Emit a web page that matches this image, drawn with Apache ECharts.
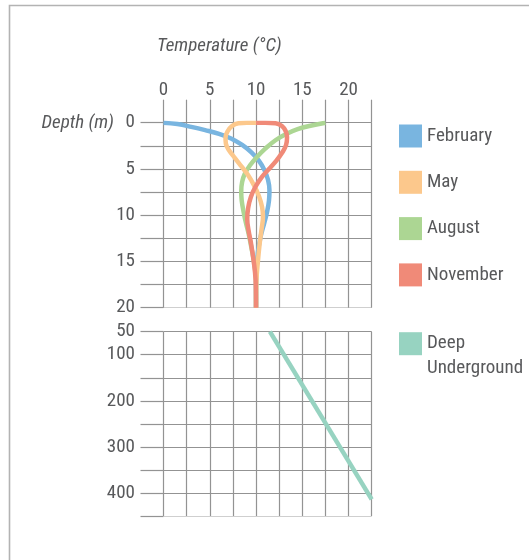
<!DOCTYPE html>
<html>
<head>
<meta charset="utf-8">
<script src="https://cdn.jsdelivr.net/npm/echarts@6/dist/echarts.min.js"></script>
<style>
html,body{margin:0;padding:0;background:#fff;}
#chart{width:529px;height:560px;}
</style>
</head>
<body>
<div id="chart"></div>
<script>
// ---- data (temperature °C, depth m) ----
const seriesNames = ['February', 'May', 'August', 'November', 'Deep Underground'];
const topTempTicks = [0, 5, 10, 15, 20];
const topDepthTicks = [0, 5, 10, 15, 20];
const deepDepthTicks = [50, 100, 200, 300, 400];

const february = [[0,0],[1.5,0.15],[3,0.45],[4.5,0.8],[6,1.2],[7.3,1.7],[8.5,2.4],[9.5,3.2],[10.3,4.1],[10.9,5.1],[11.3,6.2],[11.45,7.3],[11.4,8.4],[11.2,9.6],[10.9,10.8],[10.5,12.3],[10.2,14],[10.05,16],[10,18],[10,20]];
const may = [[10,0],[9,0],[8.1,0.05],[7.4,0.35],[6.95,0.9],[6.7,1.6],[6.75,2.3],[7.1,3.0],[7.7,3.8],[8.4,4.7],[9.1,5.6],[9.8,6.8],[10.3,7.9],[10.65,9.1],[10.75,10.2],[10.6,11.5],[10.4,13],[10.2,15],[10.05,17],[10,20]];
const august = [[17.5,0],[16,0.3],[14.5,0.7],[13.2,1.25],[12.1,1.9],[11,2.8],[10.1,3.7],[9.35,4.6],[8.8,5.5],[8.5,6.4],[8.4,7.4],[8.45,8.4],[8.65,9.6],[8.9,10.8],[9.2,12],[9.5,13.5],[9.8,15.2],[10,17],[10,20]];
const november = [[10,0],[11,0],[12.1,0.05],[12.8,0.35],[13.2,0.9],[13.35,1.6],[13.25,2.4],[12.85,3.2],[12.2,4.1],[11.4,5.0],[10.6,5.9],[9.95,6.9],[9.45,8.0],[9.15,9.2],[9.05,10.4],[9.2,11.7],[9.45,13],[9.75,15],[9.95,17],[10,20]];
const deepUnderground = [[11.5,50],[22.5,414]];

const colors = {
  February: '#79b5e0',
  May: '#fcc88c',
  August: '#acd693',
  November: '#f08a78',
  'Deep Underground': '#97d3c1'
};

const FONT = "'Liberation Sans Narrow','Arial Narrow','Roboto Condensed',sans-serif";
const FS = 19;
const TXT = '#58595b';
const GRID = '#939393';

const chart = echarts.init(document.getElementById('chart'));

function lineSeries(name, data, xi, yi) {
  return {
    name: name, type: 'line', data: data, xAxisIndex: xi, yAxisIndex: yi,
    smooth: 0.4, showSymbol: false, symbol: 'none',
    color: colors[name],
    lineStyle: { width: 4.5, color: colors[name], cap: 'butt' },
    itemStyle: { color: colors[name] },
    emphasis: { disabled: true }
  };
}

const option = {
  animation: false,
  backgroundColor: '#fff',
  textStyle: { fontFamily: FONT },
  grid: [
    { left: 163.5, top: 122.7, width: 208.2, height: 185 },
    { left: 163.5, top: 331.7, width: 208.2, height: 184.3 }
  ],
  xAxis: [
    {
      gridIndex: 0, type: 'value', position: 'top', min: 0, max: 22.5, interval: 2.5,
      axisLine: { show: false },
      axisTick: { show: true, length: 23, lineStyle: { color: GRID, width: 1.2 } },
      axisLabel: {
        margin: 23, color: TXT, fontSize: FS, fontFamily: FONT,
        formatter: v => (topTempTicks.indexOf(v) >= 0 ? String(v) : '')
      },
      splitLine: { show: true, lineStyle: { color: GRID, width: 1.2 } }
    },
    {
      gridIndex: 1, type: 'value', min: 0, max: 22.5, interval: 2.5,
      axisLine: { show: false }, axisTick: { show: false }, axisLabel: { show: false },
      splitLine: { show: true, lineStyle: { color: GRID, width: 1.2 } }
    }
  ],
  yAxis: [
    {
      gridIndex: 0, type: 'value', inverse: true, min: 0, max: 20, interval: 2.5,
      axisLine: { show: false },
      axisTick: { show: true, length: 23, lineStyle: { color: GRID, width: 1.2 } },
      axisLabel: {
        margin: 28.5, color: TXT, fontSize: FS, fontFamily: FONT,
        formatter: v => (topDepthTicks.indexOf(v) >= 0 ? String(v) : '')
      },
      splitLine: { show: true, lineStyle: { color: [GRID, GRID, GRID, GRID, GRID, GRID, GRID, GRID, '#cfcfcf'], width: 1.2 } }
    },
    {
      gridIndex: 1, type: 'value', inverse: true, min: 50, max: 450, interval: 50,
      axisLine: { show: false },
      axisTick: { show: true, length: 23, lineStyle: { color: GRID, width: 1.2 } },
      axisLabel: {
        margin: 28.5, color: TXT, fontSize: FS, fontFamily: FONT,
        formatter: v => (deepDepthTicks.indexOf(v) >= 0 ? String(v) : '')
      },
      splitLine: { show: true, lineStyle: { color: [GRID, GRID, GRID, GRID, GRID, GRID, GRID, GRID, '#cfcfcf'], width: 1.2 } }
    }
  ],
  legend: [
    {
      data: ['February', 'May', 'August', 'November'],
      orient: 'vertical', left: 394, top: 119.5,
      icon: 'rect', itemWidth: 23, itemHeight: 23, itemGap: 23.3,
      selectedMode: false,
      textStyle: { color: TXT, fontSize: FS, fontFamily: FONT }
    },
    {
      data: ['Deep Underground'],
      orient: 'vertical', left: 394, top: 301.2,
      icon: 'rect', itemWidth: 23, itemHeight: 23,
      selectedMode: false,
      formatter: () => '\nDeep\nUnderground',
      textStyle: { color: TXT, fontSize: FS, lineHeight: 25, fontFamily: FONT }
    }
  ],
  graphic: [
    {
      type: 'polyline', silent: true,
      shape: { points: [[9.5, 560], [9.5, 5.5], [529, 5.5]] },
      style: { stroke: '#b3b3b3', lineWidth: 1.6, fill: null }
    },
    {
      type: 'text', left: 157, top: 37,
      style: { text: 'Temperature (°C)', fill: TXT, font: 'italic ' + FS + 'px ' + FONT }
    },
    {
      type: 'text', left: 41.5, top: 113.5,
      style: { text: 'Depth (m)', fill: TXT, font: 'italic ' + FS + 'px ' + FONT }
    }
  ],
  series: [
    lineSeries('February', february, 0, 0),
    lineSeries('August', august, 0, 0),
    lineSeries('May', may, 0, 0),
    lineSeries('November', november, 0, 0),
    lineSeries('Deep Underground', deepUnderground, 1, 1)
  ]
};
chart.setOption(option);
</script>
</body>
</html>
